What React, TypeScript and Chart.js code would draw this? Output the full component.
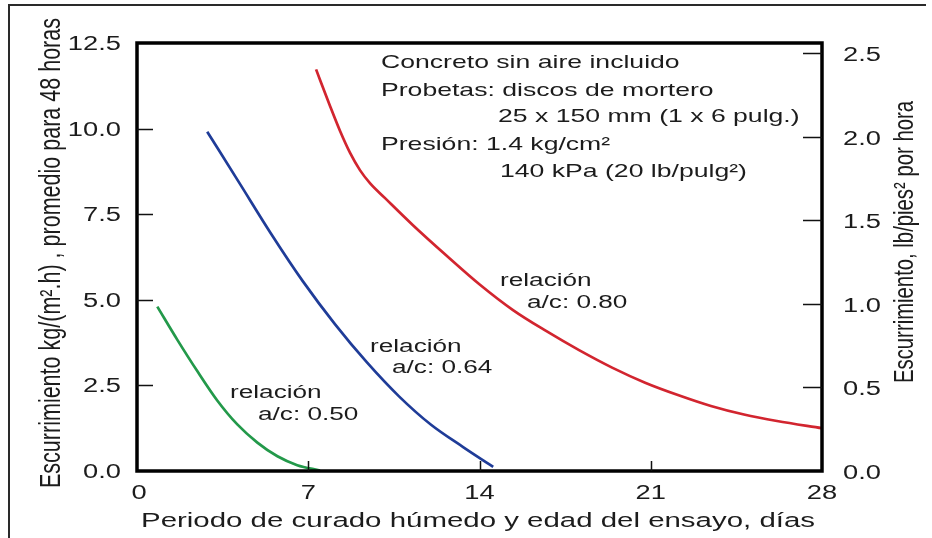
import React, { useEffect, useRef } from 'react';
import { Chart, registerables } from 'chart.js';

Chart.register(...registerables);

// ---- data ----
const daysAc050 = [0.83, 1.65, 2.47, 3.28, 4.1, 4.92, 5.74, 6.55, 7.48];
const bleedAc050 = [4.8, 3.83, 2.91, 2.06, 1.36, 0.83, 0.43, 0.17, 0.015];

const daysAc064 = [2.87, 4.17, 5.48, 6.79, 8.09, 9.4, 10.71, 12.02, 13.33, 14.56];
const bleedAc064 = [9.91, 8.43, 6.93, 5.53, 4.29, 3.17, 2.18, 1.35, 0.7, 0.12];

const daysAc080 = [7.32, 7.89, 8.3, 8.71, 9.12, 9.53, 10.14, 11.28, 12.67, 14.02, 15.37, 16.72, 18.07, 19.42, 20.77, 22.11, 23.46, 24.81, 26.16, 28];
const bleedAc080 = [11.73, 10.66, 9.93, 9.29, 8.78, 8.4, 7.97, 7.18, 6.28, 5.44, 4.7, 4.09, 3.53, 3.02, 2.58, 2.22, 1.9, 1.65, 1.46, 1.25];

const xTickValues = [0, 7, 14, 21, 28];
const yTickValues = [0, 2.5, 5, 7.5, 10, 12.5];
const y2TickValues = [0, 0.5, 1, 1.5, 2, 2.5];

const seriesNames = ['a/c: 0.50', 'a/c: 0.64', 'a/c: 0.80'];
const relationWord = 'relación';

const noteLines = [
  'Concreto sin aire incluido',
  'Probetas: discos de mortero',
  '25 x 150 mm (1 x 6 pulg.)',
  'Presión: 1.4 kg/cm²',
  '140 kPa (20 lb/pulg²)',
];

const xTitle = 'Periodo de curado húmedo y edad del ensayo, días';
const yTitle = 'Escurrimiento kg/(m².h) , promedio para 48 horas';
const y2Title = 'Escurrimiento, lb/pies² por hora';

// ---- styling helpers ----
const FONT = '"Liberation Sans", Arial, Helvetica, sans-serif';
const SX = 1.4;
const TEXT = '#1c1c1c';

function hText(ctx: CanvasRenderingContext2D, text: string, x: number, y: number, size: number, align: CanvasTextAlign = 'left', sx = SX) {
  ctx.save();
  ctx.font = `${size}px ${FONT}`;
  ctx.fillStyle = TEXT;
  ctx.textAlign = align;
  ctx.textBaseline = 'alphabetic';
  ctx.translate(x, y);
  ctx.scale(sx, 1);
  ctx.fillText(text, 0, 0);
  ctx.restore();
}

function hTextFit(ctx: CanvasRenderingContext2D, text: string, x: number, y: number, size: number, width: number) {
  ctx.save();
  ctx.font = `${size}px ${FONT}`;
  const w = ctx.measureText(text).width;
  ctx.restore();
  hText(ctx, text, x, y, size, 'left', width / w);
}

function vText(ctx: CanvasRenderingContext2D, text: string, baselineX: number, cy: number, size: number, length: number, hScale: number) {
  ctx.save();
  ctx.font = `${size}px ${FONT}`;
  ctx.fillStyle = TEXT;
  const w = ctx.measureText(text).width;
  ctx.translate(baselineX, cy);
  ctx.rotate(-Math.PI / 2);
  ctx.scale(length / w, hScale);
  ctx.textAlign = 'center';
  ctx.textBaseline = 'alphabetic';
  ctx.fillText(text, 0, 0);
  ctx.restore();
}

const decorPlugin = {
  id: 'decor',
  afterDraw(chart: any) {
    const ctx: CanvasRenderingContext2D = chart.ctx;
    const { left, right, top, bottom } = chart.chartArea;
    const xs = chart.scales.x;
    const ys = chart.scales.y;
    const y2s = chart.scales.y2;

    // outer frame (top + left)
    ctx.save();
    ctx.strokeStyle = '#2a2a2a';
    ctx.lineWidth = 2;
    ctx.beginPath();
    ctx.moveTo(9, 538);
    ctx.lineTo(9, 5);
    ctx.lineTo(926, 5);
    ctx.stroke();
    ctx.restore();

    // plot frame
    ctx.save();
    ctx.strokeStyle = '#000';
    ctx.lineJoin = 'miter';
    ctx.lineWidth = 3.5;
    ctx.strokeRect(left, top, right - left, bottom - top);

    // tick marks (inward)
    ctx.lineWidth = 1.5;
    ctx.strokeStyle = '#111';
    ctx.beginPath();
    yTickValues.forEach((v) => {
      if (v <= 0 || v >= 12.5) return;
      const py = Math.round(ys.getPixelForValue(v)) + 0.5;
      ctx.moveTo(left, py);
      ctx.lineTo(left + 16, py);
    });
    y2TickValues.forEach((v) => {
      if (v <= 0) return;
      const py = Math.round(y2s.getPixelForValue(v)) + 0.5;
      ctx.moveTo(right, py);
      ctx.lineTo(right - 19, py);
    });
    xTickValues.forEach((v) => {
      if (v <= 0 || v >= 28) return;
      const px = Math.round(xs.getPixelForValue(v)) + 0.5;
      ctx.moveTo(px, bottom);
      ctx.lineTo(px, bottom - 10);
    });
    ctx.stroke();
    ctx.restore();

    // tick labels
    const tf = 19.5;
    const half = 0.358 * tf;
    yTickValues.forEach((v) => {
      hText(ctx, v.toFixed(1), left - 16, ys.getPixelForValue(v) + half, tf, 'right');
    });
    y2TickValues.forEach((v) => {
      hText(ctx, v.toFixed(1), right + 21, y2s.getPixelForValue(v) + half + 1, tf, 'left');
    });
    xTickValues.forEach((v) => {
      hText(ctx, String(v), xs.getPixelForValue(v) + (v === 0 ? 2 : 0), bottom + 28, tf, 'center');
    });

    // axis titles
    hTextFit(ctx, xTitle, 141, 527, 20.5, 674);
    vText(ctx, yTitle, 60, 253, 21.5, 470, 1.34);
    vText(ctx, y2Title, 913, 242, 21, 282, 1.3);

    // note block
    const nf = 19;
    hText(ctx, noteLines[0], 381, 68, nf);
    hText(ctx, noteLines[1], 381, 96, nf);
    hText(ctx, noteLines[2], 498, 122, nf);
    hText(ctx, noteLines[3], 381, 150, nf);
    hText(ctx, noteLines[4], 500, 177, nf);

    // curve labels
    const lf = 18.7;
    hText(ctx, relationWord, 230, 398, lf);
    hText(ctx, seriesNames[0], 258, 420, lf);
    hText(ctx, relationWord, 370, 352, lf);
    hText(ctx, seriesNames[1], 392, 373, lf);
    hText(ctx, relationWord, 500, 286, lf);
    hText(ctx, seriesNames[2], 527, 308, lf);
  },
};

function toPoints(xs: number[], ys: number[]) {
  return xs.map((x, i) => ({ x, y: ys[i] }));
}

export default function App() {
  const canvasRef = useRef<HTMLCanvasElement | null>(null);

  useEffect(() => {
    const canvas = canvasRef.current;
    if (!canvas) return;
    const hidden = {
      display: false,
      grid: { display: false },
      border: { display: false },
      ticks: { display: false },
    };
    const chart = new Chart(canvas, {
      type: 'scatter',
      data: {
        datasets: [
          {
            label: seriesNames[0],
            data: toPoints(daysAc050, bleedAc050),
            borderColor: '#23994a',
            yAxisID: 'y',
          },
          {
            label: seriesNames[1],
            data: toPoints(daysAc064, bleedAc064),
            borderColor: '#1f3c98',
            yAxisID: 'y',
          },
          {
            label: seriesNames[2],
            data: toPoints(daysAc080, bleedAc080),
            borderColor: '#d2252f',
            yAxisID: 'y',
          },
        ].map((d) => ({
          ...d,
          showLine: true,
          pointRadius: 0,
          borderWidth: 2.7,
          cubicInterpolationMode: 'monotone' as const,
          fill: false,
        })),
      },
      options: {
        animation: false,
        responsive: true,
        maintainAspectRatio: false,
        events: [],
        layout: { padding: { left: 137, top: 43, right: 110, bottom: 67 } },
        scales: {
          x: { type: 'linear', min: 0, max: 28, ...hidden },
          y: { type: 'linear', min: 0, max: 12.5, ...hidden },
          y2: { type: 'linear', position: 'right', min: 0, max: 2.56, ...hidden },
        },
        plugins: {
          legend: { display: false },
          tooltip: { enabled: false },
        },
      } as any,
      plugins: [decorPlugin],
    });
    return () => chart.destroy();
  }, []);

  return (
    <div style={{ position: 'fixed', left: 0, top: 0, width: 932, height: 538, background: '#fff' }}>
      <canvas ref={canvasRef} />
    </div>
  );
}
